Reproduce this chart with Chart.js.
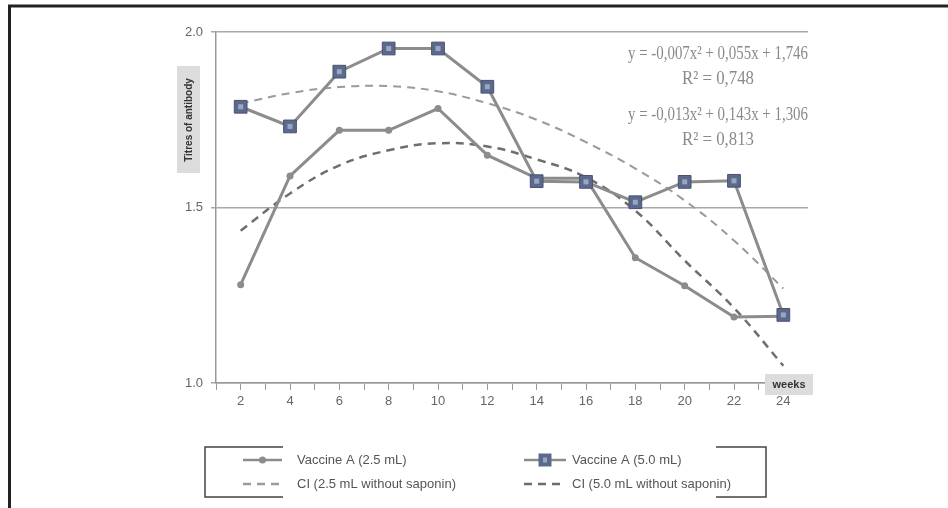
<!DOCTYPE html>
<html>
<head>
<meta charset="utf-8">
<script src="https://cdn.jsdelivr.net/npm/chart.js@4.4.0/dist/chart.umd.min.js"></script>
<style>
    body { margin: 0; background: #ffffff; }
    #chart { display: block; }
</style>
</head>
<body>
<canvas id="chart" width="948" height="508"></canvas>
<script>
// Adatok
const weeks = [2, 4, 6, 8, 10, 12, 14, 16, 18, 20, 22, 24];
const vaccine25 = [1.28, 1.59, 1.72, 1.72, 1.782, 1.649, 1.583, 1.583, 1.357, 1.277, 1.188, 1.19];
const vaccine50 = [1.787, 1.731, 1.887, 1.953, 1.953, 1.844, 1.575, 1.573, 1.515, 1.573, 1.576, 1.194];
const ci25 = [1.796, 1.826, 1.843, 1.846, 1.831, 1.797, 1.75, 1.686, 1.611, 1.52, 1.406, 1.269];
const ci50 = [1.434, 1.54, 1.62, 1.663, 1.683, 1.674, 1.637, 1.586, 1.491, 1.349, 1.214, 1.049];
const yTicks = [1.0, 1.5, 2.0];
const legendLabels = ['Vaccine A (2.5 mL)', 'Vaccine A (5.0 mL)', 'CI (2.5 mL without saponin)', 'CI (5.0 mL without saponin)'];
const equations = ['y = -0,007x\u00b2 + 0,055x + 1,746', 'R\u00b2 = 0,748', 'y = -0,013x\u00b2 + 0,143x + 1,306', 'R\u00b2 = 0,813'];

const lineGrey = '#8c8c8c';
const squareFill = '#5b6a8c';
const squareBorder = '#46536f';
const ci25Color = '#9a9a9a';
const ci50Color = '#6e6e6e';

function toPoints(values) {
    return weeks.map((w, i) => ({ x: w, y: values[i] }));
}

// Saját rajzolások: tengelyfeliratok, egyenletek, jelmagyarázat, keret
const extras = {
    id: 'extras',
    afterDatasetsDraw(chart) {
        const ctx = chart.ctx;
        // belső világos négyzet a kék jelölőkben
        const meta = chart.getDatasetMeta(1);
        ctx.save();
        meta.data.forEach(pt => {
            ctx.fillStyle = '#9aa6c0';
            ctx.fillRect(pt.x - 2.5, pt.y - 2.5, 5, 5);
        });
        ctx.restore();
    },
    afterDraw(chart) {
        const ctx = chart.ctx;
        ctx.save();

        // keret (bal és felső)
        ctx.strokeStyle = '#222';
        ctx.lineWidth = 3;
        ctx.beginPath();
        ctx.moveTo(9.5, 508);
        ctx.lineTo(9.5, 6);
        ctx.lineTo(948, 6);
        ctx.stroke();

        // y tengely címe
        ctx.fillStyle = '#dcdcdc';
        ctx.fillRect(177, 66, 23, 107);
        ctx.translate(189, 120);
        ctx.rotate(-Math.PI / 2);
        ctx.fillStyle = '#333';
        ctx.font = 'bold 10px "Liberation Sans", Arial, sans-serif';
        ctx.textAlign = 'center';
        ctx.textBaseline = 'middle';
        ctx.fillText('Titres of antibody', 0, 0, 88);
        ctx.setTransform(1, 0, 0, 1, 0, 0);

        // weeks címke
        ctx.fillStyle = '#dcdcdc';
        ctx.fillRect(765, 374, 48, 21);
        ctx.fillStyle = '#333';
        ctx.font = 'bold 11px "Liberation Sans", Arial, sans-serif';
        ctx.fillText('weeks', 789, 385);

        // egyenletek
        ctx.fillStyle = '#8a8a8a';
        ctx.font = '19px "Liberation Serif", "Times New Roman", serif';
        const eqY = [54, 79, 115, 140];
        equations.forEach((t, i) => {
            const w = i % 2 === 0 ? 180 : 72;
            ctx.fillText(t, 718, eqY[i], w);
        });

        // jelmagyarázat keret
        ctx.strokeStyle = '#444';
        ctx.lineWidth = 1.5;
        ctx.beginPath();
        ctx.moveTo(283, 447); ctx.lineTo(205, 447); ctx.lineTo(205, 497); ctx.lineTo(283, 497);
        ctx.moveTo(716, 447); ctx.lineTo(766, 447); ctx.lineTo(766, 497); ctx.lineTo(716, 497);
        ctx.stroke();

        // jelmagyarázat elemek
        const rows = [460, 484];
        const cols = [{ x0: 243, x1: 282, tx: 297 }, { x0: 524, x1: 566, tx: 572 }];
        const widths = [114, 113, 169, 167];
        ctx.font = '13px "Liberation Sans", Arial, sans-serif';
        ctx.textAlign = 'left';
        legendLabels.forEach((label, i) => {
            const c = cols[i % 2];
            const y = rows[Math.floor(i / 2)];
            ctx.lineWidth = i < 2 ? 2.5 : 2.5;
            ctx.strokeStyle = i < 2 ? lineGrey : (i === 2 ? ci25Color : ci50Color);
            ctx.setLineDash(i < 2 ? [] : [8, 6]);
            ctx.beginPath();
            ctx.moveTo(c.x0, y);
            ctx.lineTo(c.x1, y);
            ctx.stroke();
            ctx.setLineDash([]);
            if (i === 0) {
                const mx = (c.x0 + c.x1) / 2;
                ctx.fillStyle = lineGrey;
                ctx.beginPath();
                ctx.arc(mx, y, 3.5, 0, Math.PI * 2);
                ctx.fill();
            } else if (i === 1) {
                const mx = c.x0 + 21;
                ctx.fillStyle = squareFill;
                ctx.fillRect(mx - 6.5, y - 6.5, 13, 13);
                ctx.fillStyle = '#9aa6c0';
                ctx.fillRect(mx - 2, y - 2.5, 4, 5);
            }
            ctx.fillStyle = '#555';
            ctx.fillText(label, c.tx, y, widths[i]);
        });

        ctx.restore();
    }
};

const ctx = document.getElementById('chart').getContext('2d');
new Chart(ctx, {
    type: 'line',
    data: {
        datasets: [
            {
                label: legendLabels[0],
                data: toPoints(vaccine25),
                borderColor: lineGrey,
                borderWidth: 3,
                pointRadius: 3.5,
                pointBackgroundColor: lineGrey,
                pointBorderWidth: 0,
                tension: 0,
                order: 2
            },
            {
                label: legendLabels[1],
                data: toPoints(vaccine50),
                borderColor: lineGrey,
                borderWidth: 3,
                pointStyle: 'rect',
                pointRadius: 9,
                pointBackgroundColor: squareFill,
                pointBorderColor: squareBorder,
                pointBorderWidth: 1,
                tension: 0,
                order: 1
            },
            {
                label: legendLabels[2],
                data: toPoints(ci25),
                borderColor: ci25Color,
                borderWidth: 2,
                borderDash: [8, 6],
                pointRadius: 0,
                tension: 0.4,
                order: 4
            },
            {
                label: legendLabels[3],
                data: toPoints(ci50),
                borderColor: ci50Color,
                borderWidth: 2.5,
                borderDash: [8, 6],
                pointRadius: 0,
                tension: 0.4,
                order: 3
            }
        ]
    },
    options: {
        responsive: false,
        animation: false,
        events: [],
        layout: { padding: { top: 32, right: 140, bottom: 0, left: 0 } },
        plugins: {
            legend: { display: false },
            tooltip: { enabled: false }
        },
        scales: {
            x: {
                type: 'linear',
                min: 1,
                max: 25,
                afterFit: scale => { scale.height = 125; },
                afterBuildTicks: scale => {
                    scale.ticks = [];
                    for (let v = 1; v <= 25; v++) scale.ticks.push({ value: v });
                },
                ticks: {
                    autoSkip: false,
                    maxRotation: 0,
                    padding: 4,
                    color: '#666',
                    font: { family: '"Liberation Sans", Arial, sans-serif', size: 13 },
                    callback: v => weeks.includes(v) ? String(v) : ''
                },
                grid: { drawOnChartArea: false, color: '#999', tickLength: 7 },
                border: { color: '#999', width: 1.5 }
            },
            y: {
                min: 1,
                max: 2,
                afterFit: scale => { scale.width = 216; },
                afterBuildTicks: scale => {
                    scale.ticks = yTicks.map(v => ({ value: v }));
                },
                ticks: {
                    padding: 8,
                    color: '#666',
                    font: { family: '"Liberation Sans", Arial, sans-serif', size: 13 },
                    callback: v => Number(v).toFixed(1)
                },
                grid: { color: '#a8a8a8', lineWidth: 1.5, tickLength: 5 },
                border: { color: '#999', width: 1.5 }
            }
        }
    },
    plugins: [extras]
});
</script>
</body>
</html>
